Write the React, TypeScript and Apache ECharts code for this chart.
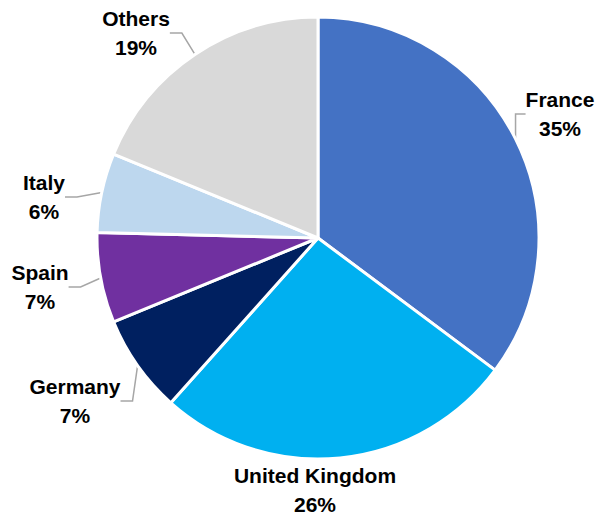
import React, { useEffect, useRef } from "react";
import * as echarts from "echarts";

const categories = ["France", "United Kingdom", "Germany", "Spain", "Italy", "Others"];
const shares = [35.2, 26.4, 7.2, 6.6, 5.8, 18.8];
const sliceColors = ["#4472C4", "#00B0F0", "#002060", "#7030A0", "#BDD7EE", "#D9D9D9"];
const labelCenters: [number, number][] = [
  [560, 114],
  [315, 490],
  [75, 401],
  [40, 287],
  [44, 197],
  [136, 33],
];
const showLine = [true, false, true, true, true, true];

export default function App() {
  const ref = useRef<HTMLDivElement>(null);
  useEffect(() => {
    document.body.style.margin = "0";
    if (!ref.current) return;
    const chart = echarts.init(ref.current, null, { renderer: "svg" });
    chart.setOption({
      animation: false,
      backgroundColor: "#FFFFFF",
      series: [
        {
          type: "pie",
          center: [318, 238],
          radius: 221,
          startAngle: 90,
          clockwise: true,
          avoidLabelOverlap: false,
          percentPrecision: 0,
          itemStyle: { borderColor: "#FFFFFF", borderWidth: 3 },
          label: {
            show: true,
            position: "outside",
            formatter: "{b}\n{d}%",
            fontFamily: "Liberation Sans, Arial, sans-serif",
            fontWeight: "bold",
            fontSize: 21,
            lineHeight: 29,
            color: "#000000",
            align: "center",
          },
          labelLine: {
            show: true,
            length: 10,
            length2: 12,
            lineStyle: { color: "#A6A6A6", width: 1.5 },
          },
          labelLayout: (params: any) => {
            const p = labelCenters[params.dataIndex];
            return { x: p[0], y: p[1], align: "center", verticalAlign: "middle" };
          },
          data: categories.map((name, i) => ({
            name,
            value: shares[i],
            itemStyle: { color: sliceColors[i] },
            labelLine: { show: showLine[i] },
          })),
        },
      ],
    });
    return () => chart.dispose();
  }, []);
  return <div ref={ref} style={{ width: 595, height: 516 }} />;
}
